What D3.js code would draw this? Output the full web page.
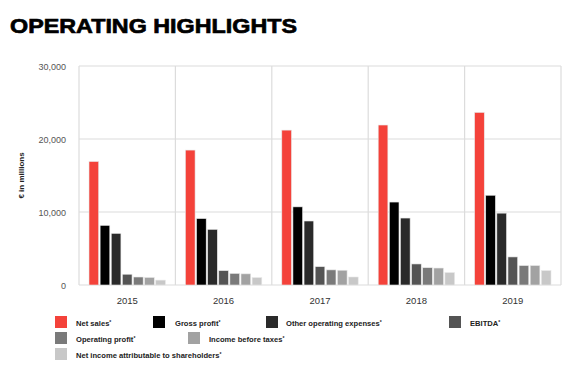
<!DOCTYPE html>
<html><head><meta charset="utf-8">
<script src="https://cdn.jsdelivr.net/npm/d3@7"></script>
<style>body{margin:0;background:#fff}svg{display:block;font-family:"Liberation Sans",Arial,sans-serif}</style>
</head><body><svg id="c" width="570" height="380"></svg>
<script>
const years = ["2015","2016","2017","2018","2019"];
const seriesNames = ["Net sales","Gross profit","Other operating expenses","EBITDA","Operating profit","Income before taxes","Net income attributable to shareholders"];
const netSales = [16915,18483,21218,21915,23640];
const grossProfit = [8168,9100,10703,11363,12293];
const otherOpex = [7070,7620,8766,9172,9843];
const ebitda = [1475,1967,2511,2882,3845];
const operatingProfit = [1094,1582,2070,2368,2660];
const incomeBeforeTaxes = [1033,1527,2023,2324,2660];
const netIncome = [668,1019,1097,1702,1976];
const yTicks = [0,10000,20000,30000];
const colors = ["#f4423a","#000000","#2a2a2a","#545454","#7a7a7a","#a2a2a2","#c8c8c8"];

const allSeries = [netSales,grossProfit,otherOpex,ebitda,operatingProfit,incomeBeforeTaxes,netIncome];
const svg = d3.select("#c");
const m = {l:79, r:561, t:66, b:285};
const x0 = d3.scaleBand().domain(years).range([m.l,m.r]).padding(0);
const x1 = d3.scaleBand().domain(d3.range(seriesNames.length)).range([10, x0.bandwidth()-10]).paddingInner(0.13);
const y = d3.scaleLinear().domain([0,30000]).range([m.b,m.t]);

svg.append("text").attr("x",10).attr("y",33).attr("font-size",21).attr("font-weight","bold")
  .attr("fill","#000").attr("stroke","#000").attr("stroke-width",0.7)
  .attr("textLength",287).attr("lengthAdjust","spacingAndGlyphs").text("OPERATING HIGHLIGHTS");

// grid
const g = svg.append("g");
g.selectAll("line.h").data(yTicks).join("line").attr("x1",m.l).attr("x2",m.r)
  .attr("y1",d=>y(d)).attr("y2",d=>y(d)).attr("stroke","#dcdcdc").attr("stroke-width",1.2);
g.selectAll("line.v").data(years.concat(["end"])).join("line")
  .attr("x1",(d,i)=>m.l+i*x0.bandwidth()).attr("x2",(d,i)=>m.l+i*x0.bandwidth())
  .attr("y1",m.t).attr("y2",m.b).attr("stroke","#dcdcdc").attr("stroke-width",1.2);

// y labels
g.selectAll("text.yl").data(yTicks).join("text").attr("x",66).attr("y",d=>y(d)+3.5)
  .attr("text-anchor","end").attr("font-size",9).attr("fill","#555").text(d=>d3.format(",")(d));
svg.append("text").attr("transform",`translate(24,${(m.t+m.b)/2}) rotate(-90)`).attr("text-anchor","middle")
  .attr("font-size",8).attr("font-weight","bold").attr("fill","#222").text("€ in millions");

// x labels
svg.selectAll("text.xl").data(years).join("text").attr("x",d=>x0(d)+x0.bandwidth()/2).attr("y",304)
  .attr("text-anchor","middle").attr("font-size",9.5).attr("fill","#333").text(d=>d);

// bars
years.forEach((yr,yi)=>{
  const grp = svg.append("g").attr("transform",`translate(${x0(yr)},0)`);
  allSeries.forEach((s,si)=>{
    grp.append("rect").attr("x",x1(si)).attr("width",x1.bandwidth())
      .attr("y",y(s[yi])).attr("height",y(0)-y(s[yi])).attr("fill",colors[si])
      .attr("stroke","#e8e8e8").attr("stroke-width",0.6);
  });
});

// legend
const legendPos = [
  {sx:55,tx:76,sy:316},{sx:153,tx:175,sy:316},{sx:266,tx:286,sy:316},{sx:449,tx:470,sy:316},
  {sx:55,tx:76,sy:332},{sx:188,tx:209,sy:332},{sx:55,tx:76,sy:348}];
const lg = svg.append("g");
seriesNames.forEach((n,i)=>{
  const p = legendPos[i];
  lg.append("rect").attr("x",p.sx).attr("y",p.sy).attr("width",12).attr("height",12).attr("fill",colors[i]);
  const t = lg.append("text").attr("x",p.tx).attr("y",p.sy+10).attr("font-size",7.6).attr("font-weight","bold").attr("fill","#222").text(n);
  t.append("tspan").attr("font-size",5).attr("dy",-2.5).text("*");
});
</script></body></html>
